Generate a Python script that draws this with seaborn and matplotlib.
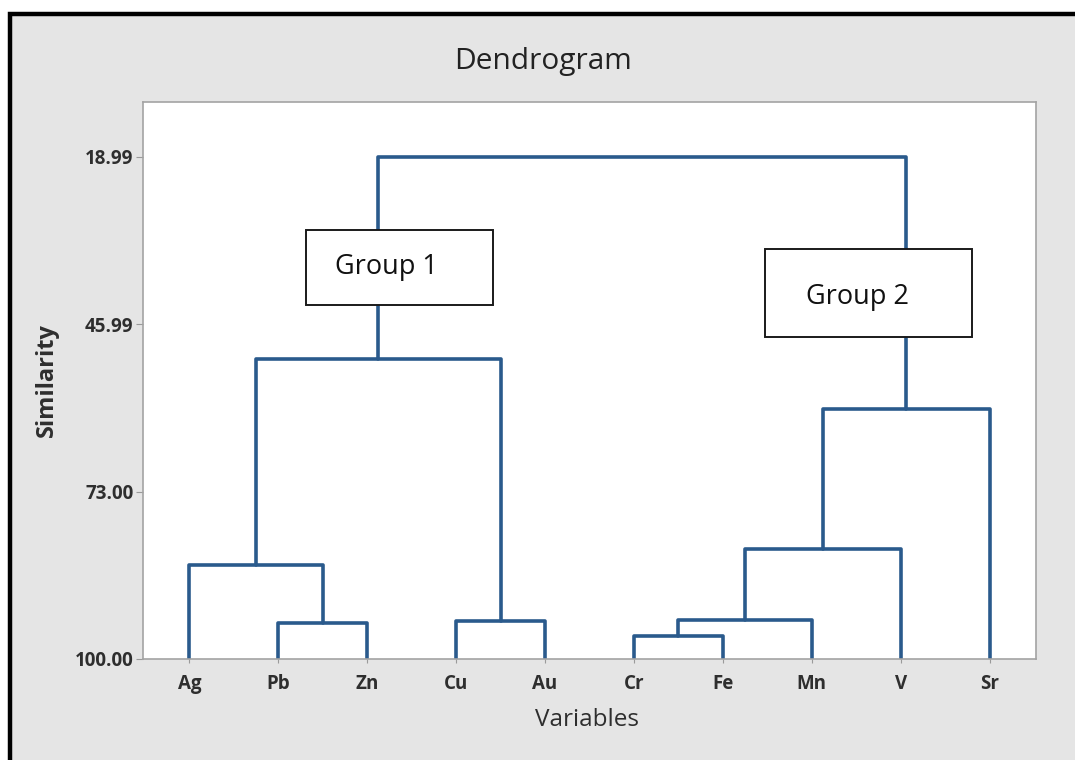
import pandas as pd
import numpy as np
import matplotlib.pyplot as plt
import matplotlib.patches as mpatches
import seaborn as sns

# leaves of the tree, left to right
leaf_names = ['Ag', 'Pb', 'Zn', 'Cu', 'Au', 'Cr', 'Fe', 'Mn', 'V', 'Sr']

# merges: child ids (leaves 0..9, new clusters 10..) and similarity level
merge_left = [1, 3, 5, 12, 0, 13, 14, 15, 16]
merge_right = [2, 4, 6, 7, 10, 8, 11, 9, 17]
merge_similarity = [94.24, 93.90, 96.29, 93.70, 84.83, 82.25, 51.59, 59.70, 18.99]

y_ticks = [18.99, 45.99, 73.00, 100.00]
group_labels = ['Group 1', 'Group 2']

LINE_COLOR = '#2a5a8c'
BG_COLOR = '#e5e5e5'
TEXT_COLOR = '#2e2e2e'


# **************************************************************************************************************
# Function  name: build_segments
# input: merge lists
# return value: dataframe with one row per point of each dendrogram link
# ****************************************************************************************************************
def build_segments():
    pos = {i: (float(i), 100.0) for i in range(len(leaf_names))}
    rows = []
    for k, (a, b, h) in enumerate(zip(merge_left, merge_right, merge_similarity)):
        xa, ha = pos[a]
        xb, hb = pos[b]
        for x, y in [(xa, ha), (xa, h), (xb, h), (xb, hb)]:
            rows.append({'seg': k, 'x': x, 'sim': y})
        pos[len(leaf_names) + k] = ((xa + xb) / 2, h)
    return pd.DataFrame(rows)


# **************************************************************************************************************
# Function  name: plotting_dendrogram
# input: segments dataframe
# return value:
# ****************************************************************************************************************
def plotting_dendrogram(df):
    sns.set_theme(style='white')
    plt.rcParams['font.family'] = ['Open Sans', 'DejaVu Sans']

    fig = plt.figure(figsize=(10.75, 7.6), dpi=100)
    fig.patch.set_facecolor('white')

    # grey panel with the black frame (only top/left edges show)
    frame = mpatches.Rectangle((10 / 1075, -0.1), 1.2, 1.1 - 14.5 / 760,
                               transform=fig.transFigure, facecolor=BG_COLOR,
                               edgecolor='black', linewidth=3.2, clip_on=False, zorder=-10)
    fig.patches.append(frame)

    ax = fig.add_axes([143 / 1075, 101 / 760, 893 / 1075, 557 / 760])
    ax.set_zorder(1)
    ax.set_facecolor('white')

    sns.lineplot(data=df, x='x', y='sim', units='seg', estimator=None, sort=False,
                 color=LINE_COLOR, linewidth=2.6, ax=ax, zorder=2)

    ax.set_xlim(-0.52, 9.52)
    ax.set_ylim(100, 10.12)

    ax.set_xticks(range(len(leaf_names)))
    ax.set_xticklabels(leaf_names)
    ax.set_yticks(y_ticks)
    ax.set_yticklabels([f'{v:.2f}' for v in y_ticks])
    ax.tick_params(axis='both', labelsize=13.5, labelcolor=TEXT_COLOR, colors='#9a9a9a')
    ax.tick_params(axis='y', length=5, width=0.8, pad=2, left=True)
    ax.tick_params(axis='x', length=3, width=0.8, pad=7.5, bottom=True)
    for lbl in ax.get_xticklabels() + ax.get_yticklabels():
        lbl.set_fontweight('bold')
        lbl.set_color(TEXT_COLOR)

    ax.set_xlabel('')
    ax.set_ylabel('')
    for sp in ax.spines.values():
        sp.set_color('#a3a3a3')
        sp.set_linewidth(1.2)

    # group boxes drawn over the links
    boxes = [(0.1825, 0.6355, 0.2095, 0.1345), (0.6965, 0.578, 0.2315, 0.158)]
    texts = [(0.215, 0.704), (0.742, 0.650)]
    for (bx, by, bw, bh), (tx, ty), label in zip(boxes, texts, group_labels):
        ax.add_patch(mpatches.Rectangle((bx, by), bw, bh, transform=ax.transAxes,
                                        facecolor='white', edgecolor='#1a1a1a',
                                        linewidth=1.4, zorder=5))
        ax.text(tx, ty, label, transform=ax.transAxes, ha='left', va='center',
                fontsize=19.5, color='#111111', zorder=6)

    fig.text(543 / 1075, 1 - 69 / 760, 'Dendrogram', ha='center', va='baseline',
             fontsize=21.5, color='#222222')
    fig.text(587 / 1075, 1 - 726 / 760, 'Variables', ha='center', va='baseline',
             fontsize=17.5, color=TEXT_COLOR)
    fig.text(47 / 1075, 1 - 380 / 760, 'Similarity', ha='center', va='center',
             rotation=90, fontsize=17, fontweight='bold', color=TEXT_COLOR)

    plt.savefig('out.png', dpi=100, facecolor=fig.get_facecolor())


if __name__ == '__main__':
    res = build_segments()
    plotting_dendrogram(res)
